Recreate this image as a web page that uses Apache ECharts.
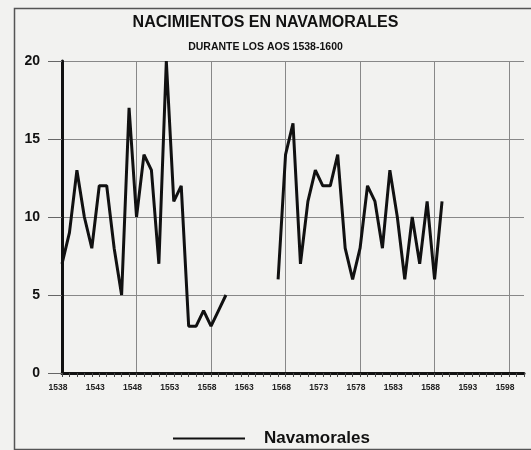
<!DOCTYPE html>
<html>
<head>
<meta charset="utf-8">
<script src="https://cdn.jsdelivr.net/npm/echarts@6/dist/echarts.min.js"></script>
<style>html,body{margin:0;padding:0;background:#f2f2f0;}#c{width:531px;height:450px;}</style>
</head>
<body>
<div id="c"></div>
<script>
var years = ['1538','1539','1540','1541','1542','1543','1544','1545','1546','1547',
  '1548','1549','1550','1551','1552','1553','1554','1555','1556','1557',
  '1558','1559','1560','1561','1562','1563','1564','1565','1566','1567',
  '1568','1569','1570','1571','1572','1573','1574','1575','1576','1577',
  '1578','1579','1580','1581','1582','1583','1584','1585','1586','1587',
  '1588','1589','1590','1591','1592','1593','1594','1595','1596','1597',
  '1598','1599','1600'];
var births = [7,9,13,10,8,12,12,8,5,17,
  10,14,13,7,20,11,12,3,3,4,
  3,4,5,null,null,null,null,null,null,6,
  14,16,7,11,13,12,12,14,8,6,
  8,12,11,8,13,10,6,10,7,11,
  6,11,null,null,null,null,null,null,null,null,
  null,null,null];
var seriesName = 'Navamorales';
var titleText = 'NACIMIENTOS EN NAVAMORALES';
var subtitleText = 'DURANTE LOS AOS 1538-1600';

var FF = '"Liberation Sans", Arial, sans-serif';
var chart = echarts.init(document.getElementById('c'));
chart.setOption({
  backgroundColor: '#f2f2f0',
  animation: false,
  graphic: [{
    type: 'rect', left: 12, top: 6, silent: true,
    shape: {x: 0, y: 0, width: 530, height: 441},
    style: {fill: 'none', stroke: '#555', lineWidth: 1.5}
  }],
  title: [
    {text: titleText, left: 'center', top: 10,
     textStyle: {fontFamily: FF, fontSize: 16, fontWeight: 'bold', color: '#111'}},
    {text: subtitleText, left: 'center', top: 37,
     textStyle: {fontFamily: FF, fontSize: 10.5, fontWeight: 'bold', color: '#111'}}
  ],
  legend: {
    data: [seriesName], left: 168, top: 425,
    icon: 'rect', itemWidth: 72, itemHeight: 2,
    itemStyle: {color: '#111'},
    textStyle: {fontFamily: FF, fontSize: 17, fontWeight: 'bold', color: '#111', padding: [0, 0, 0, 14]}
  },
  grid: {left: 62, right: 7, top: 61, bottom: 77, containLabel: false},
  xAxis: {
    type: 'category', data: years, boundaryGap: false,
    axisLine: {lineStyle: {color: '#111', width: 3}},
    axisTick: {show: true, interval: 0, length: 4, lineStyle: {color: '#444', width: 1}},
    axisLabel: {
      interval: function (i) { return i % 5 === 0; },
      fontFamily: FF, fontSize: 8.5, fontWeight: 'bold', color: '#222', margin: 10,
      padding: [0, 8, 0, 0]
    },
    splitLine: {show: true, interval: function (i) { return i % 10 === 0 && i > 0; },
      lineStyle: {color: '#888', width: 1}}
  },
  yAxis: {
    type: 'value', min: 0, max: 20, interval: 5,
    axisLine: {show: true, lineStyle: {color: '#111', width: 3}},
    axisTick: {show: true, length: 14, lineStyle: {color: '#666', width: 1}},
    axisLabel: {fontFamily: FF, fontSize: 14, fontWeight: 'bold', color: '#111', margin: 22},
    splitLine: {show: true, lineStyle: {color: '#888', width: 1}}
  },
  series: [{
    name: seriesName, type: 'line', data: births,
    symbol: 'none', connectNulls: false,
    lineStyle: {color: '#111', width: 3},
    itemStyle: {color: '#111'}
  }]
});
</script>
</body>
</html>
